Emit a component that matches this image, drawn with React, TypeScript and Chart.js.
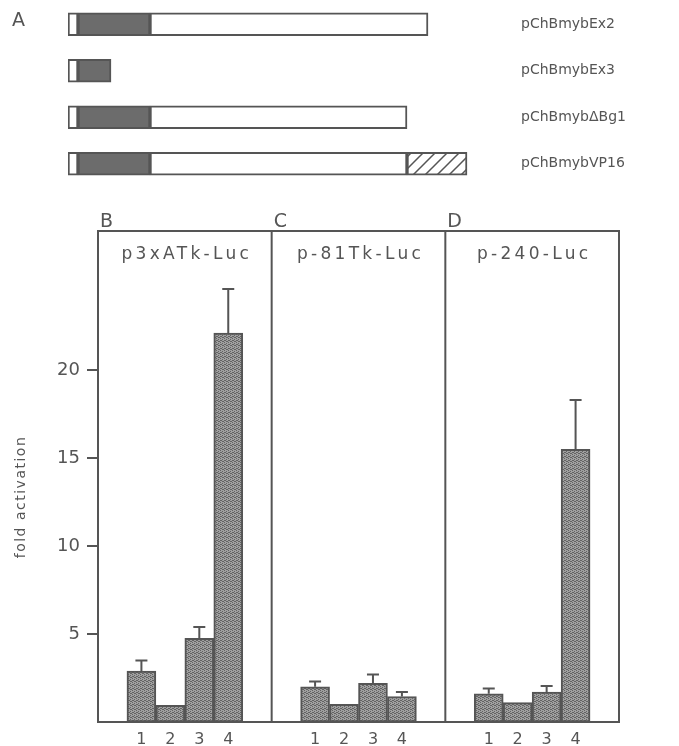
import { useEffect, useRef } from "react";
import { Chart, registerables } from "chart.js";

Chart.register(...registerables);

// ---- Panel A: construct diagrams ----
const constructNames = ["pChBmybEx2", "pChBmybEx3", "pChBmybΔBg1", "pChBmybVP16"];
const nTermSegment = [10, 10, 10, 10];
const dnaBindingSegment = [72, 33, 72, 72];
const remainderSegment = [278, null, 257, 257];
const vp16Segment = [null, null, null, 60];

// ---- Panels B, C, D: luciferase assays ----
const laneLabels = ["1", "2", "3", "4"];
const panelLetters = ["B", "C", "D"];
const panelNames = ["p3xATk-Luc", "p-81Tk-Luc", "p-240-Luc"];
const foldB = [2.9, 0.95, 4.75, 22.1];
const errB = [0.6, 0, 0.65, 2.5];
const foldC = [2.0, 1.0, 2.2, 1.45];
const errC = [0.3, 0, 0.5, 0.25];
const foldD = [1.6, 1.1, 1.7, 15.5];
const errD = [0.3, 0, 0.35, 2.8];
const yTicks = [5, 10, 15, 20];
const yMax = 27.9;
const yTitle = "fold activation";

const LINE = "#555555";
const TEXT = "#555555";
const FONT = '"DejaVu Sans"';

function makeStipple(): CanvasPattern | string {
  const c = document.createElement("canvas");
  c.width = 4;
  c.height = 4;
  const g = c.getContext("2d");
  if (!g) return "#8c8c8c";
  g.fillStyle = "#a0a0a0";
  g.fillRect(0, 0, 4, 4);
  g.fillStyle = "#636363";
  [[0, 0], [2, 1], [1, 2], [3, 3], [2, 3], [0, 2]].forEach(([px, py]) => g.fillRect(px, py, 1, 1));
  return g.createPattern(c, "repeat") || "#8c8c8c";
}

function makeHatch(): CanvasPattern | string {
  const s = 12;
  const c = document.createElement("canvas");
  c.width = s;
  c.height = s;
  const g = c.getContext("2d");
  if (!g) return "#ffffff";
  g.fillStyle = "#ffffff";
  g.fillRect(0, 0, s, s);
  g.strokeStyle = LINE;
  g.lineWidth = 1.5;
  g.beginPath();
  g.moveTo(-1, s + 1);
  g.lineTo(s + 1, -1);
  g.moveTo(s - 2, s + 2);
  g.lineTo(s + 2, s - 2);
  g.moveTo(-2, 2);
  g.lineTo(2, -2);
  g.stroke();
  return g.createPattern(c, "repeat") || "#ffffff";
}

export default function App() {
  const topRef = useRef<HTMLCanvasElement>(null);
  const botRef = useRef<HTMLCanvasElement>(null);

  useEffect(() => {
    if (!topRef.current || !botRef.current) return;
    const hatch = makeHatch();
    const stipple = makeStipple();

    const segStyle = { borderColor: LINE, borderWidth: 2, borderSkipped: false as const, barThickness: 23 };

    const letterPlugin = {
      id: "letterA",
      afterDraw(chart: any) {
        const ctx = chart.ctx;
        ctx.save();
        ctx.fillStyle = TEXT;
        ctx.font = `19px ${FONT}`;
        ctx.textAlign = "left";
        ctx.textBaseline = "middle";
        ctx.fillText("A", 12, 21);
        ctx.restore();
      },
    };

    const chartA = new Chart(topRef.current, {
      type: "bar",
      data: {
        labels: constructNames,
        datasets: [
          { data: nTermSegment, backgroundColor: "#ffffff", ...segStyle },
          { data: dnaBindingSegment, backgroundColor: "#6c6c6c", ...segStyle },
          { data: remainderSegment as any, backgroundColor: "#ffffff", ...segStyle },
          { data: vp16Segment as any, backgroundColor: hatch as any, ...segStyle },
        ],
      },
      options: {
        indexAxis: "y",
        animation: false,
        responsive: false,
        layout: { autoPadding: false, padding: { left: 68, top: 1, bottom: 3, right: 0 } },
        plugins: { legend: { display: false }, tooltip: { enabled: false } },
        scales: {
          x: { stacked: true, display: false, min: 0, max: 437 },
          y: {
            stacked: true,
            position: "right",
            grid: { display: false, drawTicks: false },
            border: { display: false },
            ticks: { padding: 16, color: TEXT, font: { family: FONT, size: 14 } },
            afterFit(s: any) {
              s.width = 174;
              s.paddingTop = 0;
              s.paddingBottom = 0;
            },
          },
        },
      } as any,
      plugins: [letterPlugin],
    });

    // build the 18-slot category data for the three panels
    const groups = [foldB, foldC, foldD];
    const groupErrs = [errB, errC, errD];
    const values: (number | null)[] = [];
    const errs: number[] = [];
    const labels: string[] = [];
    groups.forEach((g, gi) => {
      values.push(null);
      errs.push(0);
      labels.push("");
      g.forEach((v, i) => {
        values.push(v);
        errs.push(groupErrs[gi][i]);
        labels.push(laneLabels[i]);
      });
      values.push(null);
      errs.push(0);
      labels.push("");
    });
    const per = labels.length / groups.length;

    const framePlugin = {
      id: "frame",
      afterDraw(chart: any) {
        const { ctx, chartArea } = chart;
        const { left, right, top, bottom } = chartArea;
        const xs = chart.scales.x;
        const ys = chart.scales.y;
        ctx.save();
        ctx.strokeStyle = LINE;
        ctx.lineWidth = 2;
        ctx.strokeRect(left, top, right - left, bottom - top);
        const bounds: number[] = [left];
        for (let p = 1; p < groups.length; p++) {
          const xd = (xs.getPixelForValue(p * per - 1) + xs.getPixelForValue(p * per)) / 2;
          bounds.push(xd);
          ctx.beginPath();
          ctx.moveTo(xd, top);
          ctx.lineTo(xd, bottom);
          ctx.stroke();
        }
        bounds.push(right);

        // error bars (upper only)
        const meta = chart.getDatasetMeta(0);
        meta.data.forEach((bar: any, i: number) => {
          const e = errs[i];
          const v = values[i];
          if (!e || v == null) return;
          const y1 = ys.getPixelForValue(v);
          const y2 = ys.getPixelForValue(v + e);
          ctx.beginPath();
          ctx.moveTo(bar.x, y1);
          ctx.lineTo(bar.x, y2);
          ctx.moveTo(bar.x - 6, y2);
          ctx.lineTo(bar.x + 6, y2);
          ctx.stroke();
        });

        ctx.fillStyle = TEXT;
        for (let p = 0; p < groups.length; p++) {
          const l = bounds[p];
          const r = bounds[p + 1];
          ctx.font = `17px ${FONT}`;
          (ctx as any).letterSpacing = "3.3px";
          ctx.textAlign = "center";
          ctx.textBaseline = "middle";
          ctx.fillText(panelNames[p], (l + r) / 2 + 2, top + 24);
          (ctx as any).letterSpacing = "0px";
          ctx.font = `19px ${FONT}`;
          ctx.textAlign = "left";
          ctx.textBaseline = "alphabetic";
          ctx.fillText(panelLetters[p], l + 2, top - 4);
        }

        ctx.translate(21, 307);
        ctx.rotate(-Math.PI / 2);
        ctx.font = `14px ${FONT}`;
        (ctx as any).letterSpacing = "1.5px";
        ctx.textAlign = "center";
        ctx.textBaseline = "middle";
        ctx.fillText(yTitle, 0, 0);
        ctx.restore();
      },
    };

    const chartB = new Chart(botRef.current, {
      type: "bar",
      data: {
        labels,
        datasets: [
          {
            data: values,
            backgroundColor: stipple as any,
            borderColor: LINE,
            borderWidth: 2,
            borderSkipped: false,
            barPercentage: 1,
            categoryPercentage: 1,
          },
        ],
      },
      options: {
        animation: false,
        responsive: false,
        layout: { padding: { left: 0, top: 41, right: 60, bottom: 0 } },
        plugins: { legend: { display: false }, tooltip: { enabled: false } },
        scales: {
          x: {
            grid: { display: false, drawTicks: false },
            border: { display: false },
            ticks: {
              autoSkip: false,
              maxRotation: 0,
              padding: 8,
              color: TEXT,
              font: { family: FONT, size: 16 },
            },
            afterFit(s: any) {
              s.height = 24;
            },
          },
          y: {
            min: 0,
            max: yMax,
            grid: { drawOnChartArea: false, drawTicks: true, tickLength: 11, color: LINE, lineWidth: 2 },
            border: { display: false },
            ticks: { padding: 7, color: TEXT, font: { family: FONT, size: 18 } },
            afterBuildTicks(s: any) {
              s.ticks = yTicks.map((v) => ({ value: v }));
            },
            afterFit(s: any) {
              s.width = 98;
            },
          },
        },
      } as any,
      plugins: [framePlugin],
    });

    return () => {
      chartA.destroy();
      chartB.destroy();
    };
  }, []);

  return (
    <div style={{ position: "absolute", left: 0, top: 0, width: 679, height: 746, background: "#ffffff" }}>
      <canvas ref={topRef} width={679} height={190} style={{ position: "absolute", left: 0, top: 0 }} />
      <canvas ref={botRef} width={679} height={556} style={{ position: "absolute", left: 0, top: 190 }} />
    </div>
  );
}
